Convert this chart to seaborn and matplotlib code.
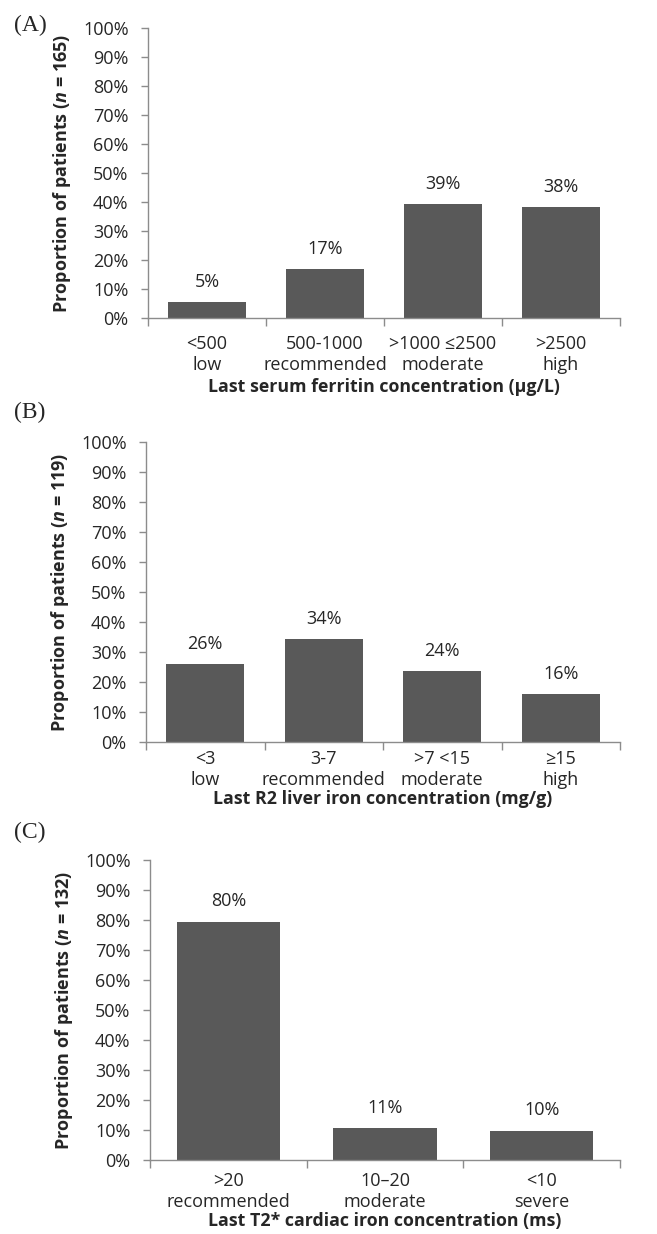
import matplotlib
matplotlib.use("Agg")
import matplotlib.pyplot as plt
import seaborn as sns
import pandas as pd
from matplotlib.ticker import FixedLocator, PercentFormatter

sns.set_theme(style="white")
plt.rcParams['font.family'] = ['Open Sans', 'DejaVu Sans']
plt.rcParams['mathtext.fontset'] = 'custom'
plt.rcParams['mathtext.it'] = 'Open Sans:bold:italic'
plt.rcParams['mathtext.rm'] = 'Open Sans:bold'

# panel A - serum ferritin
ferritin_cats = ["<500\nlow", "500-1000\nrecommended", ">1000 \u22642500\nmoderate", ">2500\nhigh"]
ferritin_vals = [5.4, 17.0, 39.4, 38.2]

# panel B - R2 liver iron
liver_cats = ["<3\nlow", "3-7\nrecommended", ">7 <15\nmoderate", "\u226515\nhigh"]
liver_vals = [26.1, 34.4, 23.6, 15.9]

# panel C - T2* cardiac iron
cardiac_cats = [">20\nrecommended", "10\u201320\nmoderate", "<10\nsevere"]
cardiac_vals = [79.5, 10.6, 9.8]

panels = [
    ("(A)", ferritin_cats, ferritin_vals, 165, "Last serum ferritin concentration (\u00b5g/L)"),
    ("(B)", liver_cats, liver_vals, 119, "Last R2 liver iron concentration (mg/g)"),
    ("(C)", cardiac_cats, cardiac_vals, 132, "Last T2* cardiac iron concentration (ms)"),
]

W, H = 657, 1234
# axes boxes in pixels: left, top, right, bottom
boxes = [(148, 28, 620, 318), (146, 442, 620, 742), (150, 860, 620, 1160)]
letter_y = [25, 412, 832]
tick_pads = [12.5, 6, 9]
label_pads = [3, 0.5, 0.5]

BAR = "#595959"
SPINE = "#8c8c8c"
FS = 13

fig = plt.figure(figsize=(W / 100, H / 100), dpi=100)

for i, (tag, cats, vals, n, xlab) in enumerate(panels):
    l, t, r, b = boxes[i]
    ax = fig.add_axes([l / W, 1 - b / H, (r - l) / W, (b - t) / H])
    df = pd.DataFrame({"cat": cats, "val": vals})
    sns.barplot(data=df, x="cat", y="val", color=BAR, width=0.66,
                saturation=1, edgecolor="none", ax=ax)
    k = len(cats)
    ax.set_xlim(-0.5, k - 0.5)
    ax.set_ylim(0, 100)
    ax.yaxis.set_major_locator(FixedLocator(range(0, 101, 10)))
    ax.yaxis.set_major_formatter(PercentFormatter(decimals=0))

    # category boundaries carry the ticks, labels sit in between
    ax.xaxis.set_major_locator(FixedLocator([j - 0.5 for j in range(k + 1)]))
    ax.xaxis.set_minor_locator(FixedLocator(range(k)))
    ax.set_xticklabels([""] * (k + 1))
    ax.set_xticklabels(cats, minor=True, fontsize=FS, linespacing=1.2)
    ax.tick_params(axis="x", which="major", length=6, width=1, color=SPINE, direction="out", bottom=True)
    ax.tick_params(axis="x", which="minor", length=0, pad=tick_pads[i])
    ax.tick_params(axis="y", length=5, width=1, color=SPINE, direction="out", left=True,
                   labelsize=FS, pad=9)

    for s in ["top", "right"]:
        ax.spines[s].set_visible(False)
    for s in ["left", "bottom"]:
        ax.spines[s].set_color(SPINE)
        ax.spines[s].set_linewidth(1)

    for p, v in zip(ax.patches, vals):
        ax.annotate(f"{v:.0f}%", (p.get_x() + p.get_width() / 2, p.get_height()),
                    xytext=(0, 8), textcoords="offset points", ha="center", va="bottom",
                    fontsize=FS)

    ax.set_xlabel(xlab, fontsize=12.8, fontweight="bold", labelpad=label_pads[i])
    ax.set_ylabel(f"Proportion of patients ($n$ = {n})", fontsize=FS, fontweight="bold", labelpad=7)

    fig.text(14 / W, 1 - letter_y[i] / H, tag, family="Liberation Serif", fontsize=17,
             va="center", ha="left")

fig.savefig("out.png", dpi=100)
